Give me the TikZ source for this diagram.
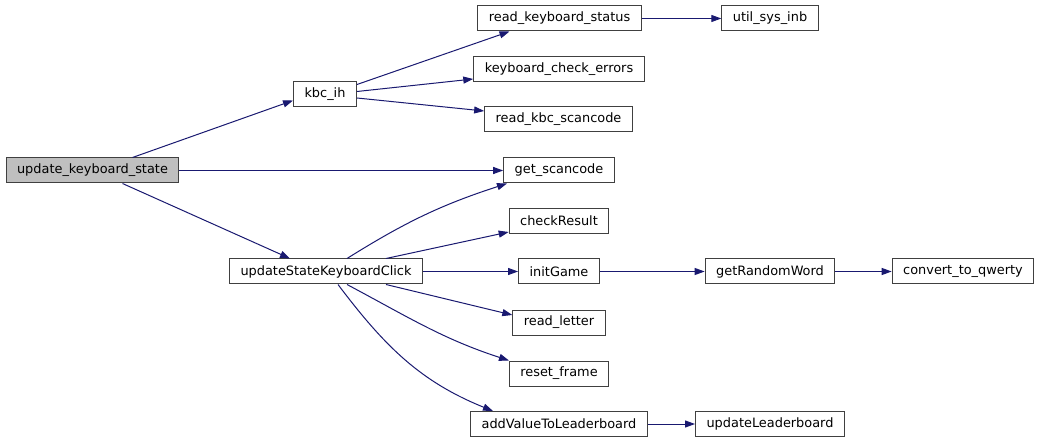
\documentclass[tikz,border=0pt]{standalone}
\usepackage{fontspec}
\setmainfont{DejaVu Sans}
\usepackage{xcolor}
\usepackage{tikz}
\usetikzlibrary{arrows.meta}

\definecolor{edgeblue}{HTML}{191970}
\definecolor{boxline}{HTML}{404040}
\definecolor{rootbg}{HTML}{BFBFBF}

\begin{document}
\begin{tikzpicture}[x=1pt, y=-1pt,
      box/.style={draw=boxline, fill=white, line width=1pt,
                  minimum height=25pt, inner xsep=11pt, inner ysep=0pt,
                  font=\fontsize{12.9}{15}\selectfont},
      root/.style={box, fill=rootbg},
      arr/.style={-{Triangle[length=10pt,width=7pt]}, line width=1pt, color=edgeblue}
  ]
    \useasboundingbox (0,0) rectangle (1040,443);

    % call graph nodes
    \node[root] (ukb)  at (92.5,170.5) {update\_keyboard\_state};
    \node[box]  (kbc)  at (325,94.5)   {kbc\_ih};
    \node[box]  (rks)  at (559.5,18.5) {read\_keyboard\_status};
    \node[box]  (kce)  at (559,69.5)   {keyboard\_check\_errors};
    \node[box]  (rkbc) at (558.5,119.5) {read\_kbc\_scancode};
    \node[box]  (usi)  at (770,18.5)   {util\_sys\_inb};
    \node[box]  (gsc)  at (559,170.5)  {get\_scancode};
    \node[box]  (usk)  at (326,271.5)  {updateStateKeyboardClick};
    \node[box]  (chk)  at (559,221)    {checkResult};
    \node[box]  (ini)  at (559,271.5)  {initGame};
    \node[box]  (rlt)  at (559,322.5)  {read\_letter};
    \node[box]  (rfr)  at (559,373.5)  {reset\_frame};
    \node[box]  (avl)  at (559,424)    {addValueToLeaderboard};
    \node[box]  (grw)  at (770,271.5)  {getRandomWord};
    \node[box]  (cq)   at (963,271.5)  {convert\_to\_qwerty};
    \node[box]  (ulb)  at (770,424)    {updateLeaderboard};

    % calls
    \draw[arr] ([xshift=40pt]ukb.north) -- ([yshift=-6pt]kbc.west);
    \draw[arr] (ukb) -- (gsc);
    \draw[arr] ([xshift=30pt]ukb.south) -- ([xshift=-36pt]usk.north);
    \draw[arr] ([yshift=10pt]kbc.east) -- ([xshift=-50pt]rks.south);
    \draw[arr] ([yshift=3pt]kbc.east) -- ([yshift=-9.5pt]kce.west);
    \draw[arr] ([yshift=-3.5pt]kbc.east) -- ([yshift=8.5pt]rkbc.west);
    \draw[arr] (rks) -- (usi);
    \draw[arr] ([xshift=21pt]usk.north) to[out=32,in=198] ([xshift=-52pt]gsc.south);
    \draw[arr] ([xshift=60pt]usk.north) -- ([yshift=2pt]chk.south west);
    \draw[arr] (usk) -- (ini);
    \draw[arr] ([xshift=60pt]usk.south) -- ([yshift=7.5pt]rlt.west);
    \draw[arr] ([xshift=21pt]usk.south) to[out=-28,in=162] ([xshift=-50pt]rfr.north);
    \draw[arr] ([xshift=12pt]usk.south) to[out=-53,in=158] ([xshift=-66pt]avl.north);
    \draw[arr] (ini) -- (grw);
    \draw[arr] (grw) -- (cq);
    \draw[arr] (avl) -- (ulb);
\end{tikzpicture}
\end{document}
